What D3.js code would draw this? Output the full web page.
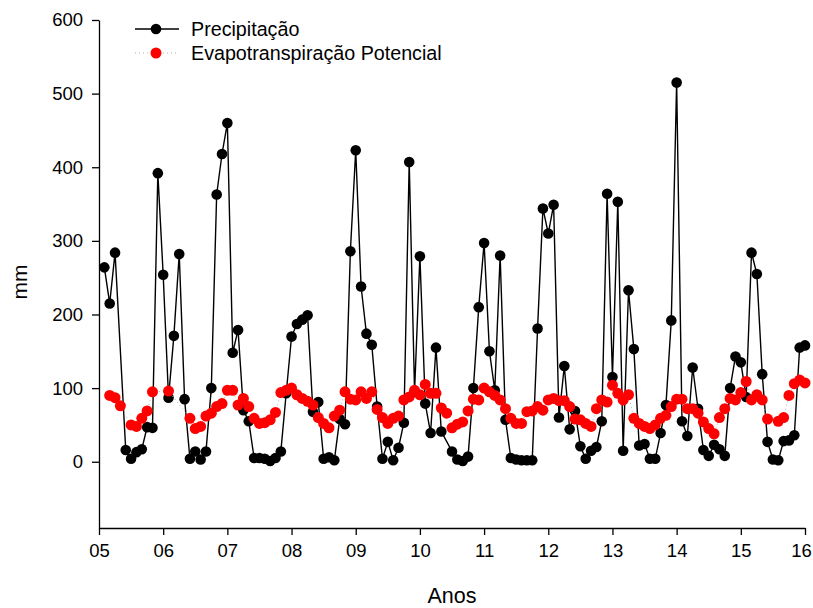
<!DOCTYPE html>
<html>
<head>
<meta charset="utf-8">
<script src="https://cdn.jsdelivr.net/npm/d3@7"></script>
<style>
  body { margin: 0; background: #fff; }
  svg text { font-family: "Liberation Sans", Arial, sans-serif; fill: #000; }
</style>
</head>
<body>
<div id="chart"></div>
<script>
// size of the drawing
var width = 813;
var height = 608;

// monthly series, Jan 2005 .. Dec 2015 (null = no value that month)
var years = [2005, 2006, 2007, 2008, 2009, 2010, 2011, 2012, 2013, 2014, 2015];

var precipitacao = [
  264, 215, 284, null, 16, 4, 13, 17, 47, 46, 392, 254,
  87, 171, 282, 85, 4, 14, 3, 14, 100, 363, 418, 460,
  148, 179, 70, 55, 5, 5, 4, 1, 5, 14, 93, 170,
  187, 193, 199, 68, 81, 4, 6, 2, 58, 51, 286, 423,
  238, 174, 159, 75, 4, 27, 2, 19, 53, 407, 95, 279,
  79, 39, 155, 41, null, 14, 3, 1, 7, 100, 210, 297,
  150, 97, 280, 57, 5, 3, 2, 2, 2, 181, 344, 310,
  349, 60, 130, 44, 69, 21, 4, 15, 20, 55, 364, 115,
  353, 15, 233, 153, 22, 24, 4, 4, 39, 77, 192, 515,
  55, 35, 128, 72, 16, 8, 23, 17, 8, 100, 143, 135,
  88, 284, 255, 119, 27, 3, 2, 28, 29, 36, 155, 158
];

var evapotranspiracao = [
  null, 90, 87, 76, null, 50, 48, 59, 69, 95, null, null,
  96, null, null, null, 59, 45, 48, 62, 66, 75, 79, 97,
  97, 77, 86, 75, 59, 52, 53, 57, 67, 94, 97, 100,
  91, 86, 82, 77, 60, 52, 46, 62, 70, 95, 85, 84,
  95, 86, 95, 71, 60, 52, 59, 62, 84, 88, 97, 91,
  105, 93, 93, 73, 66, 46, 51, 54, 69, 85, 84, 100,
  95, 90, 84, 72, 59, 52, 52, 68, 69, 75, 70, 84,
  86, 83, 83, 75, 58, 57, 52, 48, 72, 84, 81, 104,
  93, 84, 91, 59, 52, 48, 45, 50, 59, 63, 75, 85,
  85, 72, 72, 66, 54, 45, 38, 60, 72, 86, 84, 94,
  109, 84, 91, 84, 58, null, 55, 60, 90, 106, 111, 107
];

var xTickValues = d3.range(2005, 2017);
var yTickValues = [0, 100, 200, 300, 400, 500, 600];

// month index -> decimal year (each month plotted at its end)
function monthX(i) { return years[0] + (i + 1) / 12; }

var x = d3.scaleLinear().domain([2005, 2016]).range([99, 805]);
var y = d3.scaleLinear().domain([-90, 600]).range([528, 20]);

var svg = d3.select("#chart")
    .append("svg")
    .attr("width", width)
    .attr("height", height);

// axes
var xAxis = d3.axisBottom(x)
    .tickValues(xTickValues)
    .tickFormat(function(d) { return d3.format("02d")(d % 100); })
    .tickSize(7)
    .tickSizeOuter(0)
    .tickPadding(9);

var yAxis = d3.axisLeft(y)
    .tickValues(yTickValues)
    .tickSize(7)
    .tickSizeOuter(0)
    .tickPadding(9);

var gx = svg.append("g")
    .attr("transform", "translate(0," + y.range()[0] + ")")
    .call(xAxis);

var gy = svg.append("g")
    .attr("transform", "translate(" + x.range()[0] + ",0)")
    .call(yAxis);

svg.selectAll(".domain, .tick line")
    .attr("stroke", "#000")
    .attr("stroke-width", 1.3);

svg.selectAll(".tick text")
    .style("font-size", "18.5px")
    .style("font-family", "Liberation Sans, Arial, sans-serif");

// keep the last year label inside the drawing
gx.selectAll(".tick text")
    .filter(function(d) { return d === 2016; })
    .attr("dx", -4);

// axis titles
svg.append("text")
    .attr("x", (x.range()[0] + x.range()[1]) / 2)
    .attr("y", 603)
    .attr("text-anchor", "middle")
    .style("font-size", "21.5px")
    .text("Anos");

svg.append("text")
    .attr("transform", "translate(27,282) rotate(-90)")
    .attr("text-anchor", "middle")
    .style("font-size", "21px")
    .text("mm");

// build point lists, skipping empty months
function points(values) {
    var pts = [];
    values.forEach(function(v, i) {
        if (v !== null) pts.push({ t: monthX(i), v: v });
    });
    return pts;
}

var precPts = points(precipitacao);
var etpPts = points(evapotranspiracao);

var line = d3.line()
    .x(function(d) { return x(d.t); })
    .y(function(d) { return y(d.v); });

// precipitation: solid black line with black dots
svg.append("path")
    .datum(precPts)
    .attr("fill", "none")
    .attr("stroke", "#000")
    .attr("stroke-width", 1.4)
    .attr("d", line);

svg.append("g").selectAll("circle")
    .data(precPts)
    .enter()
    .append("circle")
    .attr("cx", function(d) { return x(d.t); })
    .attr("cy", function(d) { return y(d.v); })
    .attr("r", 5.3)
    .attr("fill", "#000");

// potential evapotranspiration: faint dotted line with red dots
svg.append("path")
    .datum(etpPts)
    .attr("fill", "none")
    .attr("stroke", "#b0b0b0")
    .attr("stroke-width", 1)
    .attr("stroke-dasharray", "1,3")
    .attr("d", line);

svg.append("g").selectAll("circle")
    .data(etpPts)
    .enter()
    .append("circle")
    .attr("cx", function(d) { return x(d.t); })
    .attr("cy", function(d) { return y(d.v); })
    .attr("r", 5.5)
    .attr("fill", "#ff0000");

// legend
var legend = svg.append("g").attr("transform", "translate(135,29)");

legend.append("line")
    .attr("x1", 0).attr("x2", 44)
    .attr("y1", 0).attr("y2", 0)
    .attr("stroke", "#000")
    .attr("stroke-width", 1.4);
legend.append("circle")
    .attr("cx", 21).attr("cy", 0).attr("r", 5.3)
    .attr("fill", "#000");
legend.append("text")
    .attr("x", 56).attr("y", 0).attr("dy", "0.36em")
    .style("font-size", "19.7px")
    .text("Precipitação");

legend.append("line")
    .attr("x1", 0).attr("x2", 44)
    .attr("y1", 24).attr("y2", 24)
    .attr("stroke", "#b0b0b0")
    .attr("stroke-width", 1)
    .attr("stroke-dasharray", "1,3");
legend.append("circle")
    .attr("cx", 21).attr("cy", 24).attr("r", 5.5)
    .attr("fill", "#ff0000");
legend.append("text")
    .attr("x", 56).attr("y", 24).attr("dy", "0.36em")
    .style("font-size", "19.7px")
    .text("Evapotranspiração Potencial");
</script>
</body>
</html>
